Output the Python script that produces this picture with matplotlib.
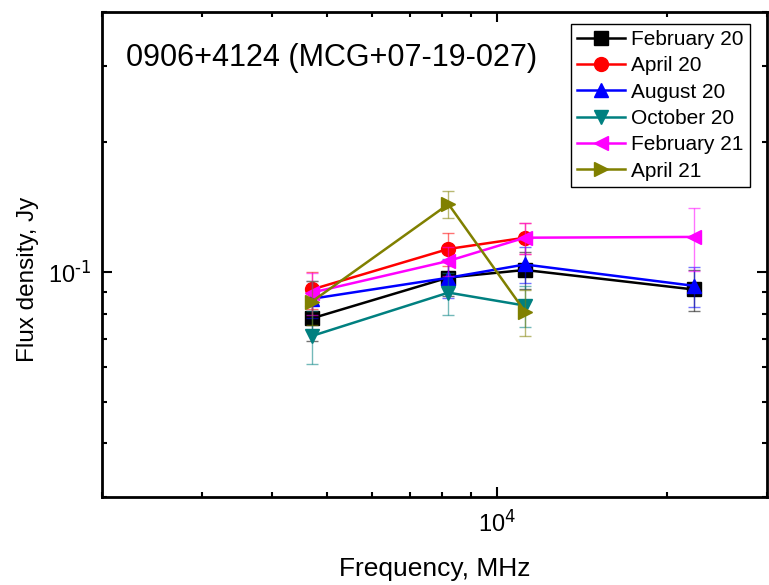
import matplotlib
matplotlib.use('Agg')
import matplotlib.pyplot as plt
import numpy as np
from matplotlib.ticker import NullFormatter, FuncFormatter

fontsize = 17
matplotlib.rc('font', family=['Liberation Sans', 'DejaVu Sans'], size=fontsize)
matplotlib.rc('mathtext', default='regular')
matplotlib.rc('axes', unicode_minus=False)
matplotlib.rc('xtick', direction='in', top=True)
matplotlib.rc('ytick', direction='in', right=True)

# frequencies, MHz
freq = [4700, 8200, 11200, 22300]

# flux densities (Jy) and errors per epoch
feb20 = [0.078, 0.097, 0.101, 0.091]
feb20_err = [0.009, 0.009, 0.010, 0.010]
apr20 = [0.091, 0.113, 0.120]
apr20_err = [0.009, 0.010, 0.010]
aug20 = [0.0866, 0.0969, 0.104, 0.0928]
aug20_err = [0.0085, 0.010, 0.010, 0.010]
oct20 = [0.071, 0.0895, 0.0835]
oct20_err = [0.010, 0.010, 0.009]
feb21 = [0.0895, 0.106, 0.120, 0.1205]
feb21_err = [0.010, 0.008, 0.010, 0.020]
apr21 = [0.0853, 0.1436, 0.0809]
apr21_err = [0.010, 0.010, 0.010]

labels = ['February 20', 'April 20', 'August 20', 'October 20', 'February 21', 'April 21']
series = [(feb20, feb20_err), (apr20, apr20_err), (aug20, aug20_err),
          (oct20, oct20_err), (feb21, feb21_err), (apr21, apr21_err)]
colors = ['#000000', '#ff0000', '#0000ff', '#008080', '#ff00ff', '#808000']
markers = ['s', 'o', '^', 'v', '<', '>']

def pow10(v, pos):
    'label decades as 10^n with a plain hyphen'
    n = int(round(np.log10(v)))
    return r'$\mathregular{10^{\text{%d}}}$' % n

fig = plt.figure(figsize=(7.69, 5.85), dpi=100)
ax = fig.add_axes([0.133, 0.150, 0.864, 0.829])

for (vals, errs), lab, c, m in zip(series, labels, colors, markers):
    x = freq[:len(vals)]
    ax.errorbar(x, vals, yerr=errs, fmt='none', ecolor=c, elinewidth=1,
                capsize=4, capthick=1, alpha=0.55)
    ax.plot(x, vals, color=c, marker=m, markersize=10, linewidth=1.8, label=lab)

ax.set_xscale('log')
ax.set_yscale('log')
ax.set_xlim(2000, 30000)
ax.set_ylim(0.03, 0.4)
ax.xaxis.set_major_formatter(FuncFormatter(pow10))
ax.yaxis.set_major_formatter(FuncFormatter(pow10))
ax.xaxis.set_minor_formatter(NullFormatter())
ax.yaxis.set_minor_formatter(NullFormatter())
ax.tick_params(which='major', length=7, width=1.5, labelsize=fontsize)
ax.tick_params(which='minor', length=3.5, width=1.5)
ax.tick_params(axis='x', which='major', pad=9)
ax.tick_params(axis='y', which='major', pad=8)
for sp in ax.spines.values():
    sp.set_linewidth(2)

ax.set_xlabel('Frequency, MHz', fontsize=19)
ax.xaxis.set_label_coords(0.5, -0.124)
ax.set_ylabel('Flux density, Jy', fontsize=17.5)
ax.yaxis.set_label_coords(-0.095, 0.449)
ax.text(0.036, 0.905, '0906+4124 (MCG+07-19-027)', transform=ax.transAxes,
        fontsize=22, va='center', ha='left')

leg = ax.legend(loc='upper right', bbox_to_anchor=(0.975, 0.976), fontsize=15,
                fancybox=False, edgecolor='k', framealpha=1, labelspacing=0.35,
                handlelength=2.3, handletextpad=0.3, borderpad=0.3, borderaxespad=0)
leg.get_frame().set_linewidth(1)

fig.savefig('out.png', dpi=100)
